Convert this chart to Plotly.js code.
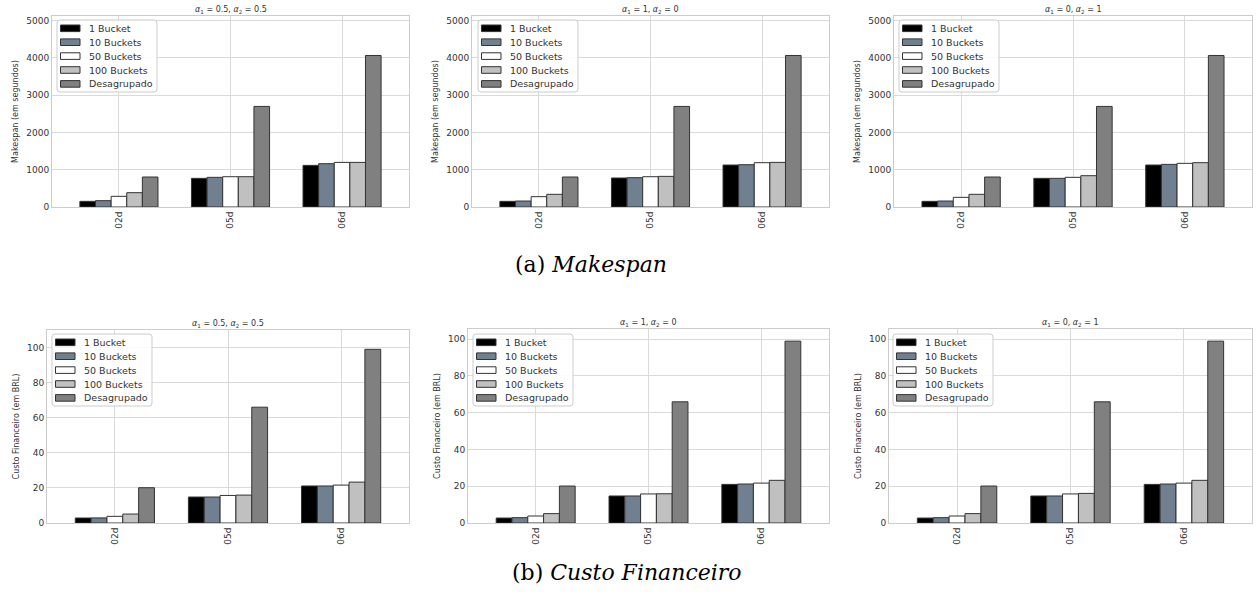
<!DOCTYPE html>
<html>
<head>
<meta charset="utf-8">
<script src="https://cdn.plot.ly/plotly-3.0.1.min.js"></script>
<style>html,body{margin:0;padding:0;background:#fff;}#chart{width:1256px;height:596px;}</style>
</head>
<body>
<div id="chart"></div>
<script>
// ---- data ----
const categories = ['02d', '05d', '06d'];
const seriesNames = ['1 Bucket', '10 Buckets', '50 Buckets', '100 Buckets', 'Desagrupado'];
const panelTitles = ['<i>α</i><sub>1</sub> = 0.5, <i>α</i><sub>2</sub> = 0.5',
                     '<i>α</i><sub>1</sub> = 1, <i>α</i><sub>2</sub> = 0',
                     '<i>α</i><sub>1</sub> = 0, <i>α</i><sub>2</sub> = 1'];
const makespanTicks = [0, 1000, 2000, 3000, 4000, 5000];
const costTicks = [0, 20, 40, 60, 80, 100];

// Makespan (em segundos): rows = series, columns = categories
const makespan_a05 = [[152, 768, 1116], [170, 795, 1161], [286, 812, 1196], [384, 812, 1196], [804, 2696, 4062]];
const makespan_a10 = [[152, 777, 1125], [160, 786, 1134], [277, 812, 1188], [340, 821, 1196], [804, 2696, 4062]];
const makespan_a01 = [[152, 768, 1125], [160, 768, 1143], [259, 795, 1170], [340, 839, 1188], [804, 2696, 4062]];
// Custo Financeiro (em BRL)
const cost_a05 = [[2.85, 14.8, 21.1], [2.9, 14.8, 21.1], [3.8, 15.7, 21.6], [5.1, 15.9, 23.3], [20.1, 66.0, 99.0]];
const cost_a10 = [[2.7, 14.7, 21.0], [2.9, 14.7, 21.2], [3.8, 15.8, 21.7], [5.1, 15.9, 23.2], [20.1, 65.9, 98.9]];
const cost_a01 = [[2.7, 14.7, 21.0], [2.9, 14.7, 21.2], [3.8, 15.8, 21.7], [5.1, 16.1, 23.2], [20.1, 65.9, 98.9]];

// ---- styling ----
const colors = ['#000000', '#708090', '#ffffff', '#c0c0c0', '#808080'];
const W = 1256, H = 596;
const panels = [
  {data: makespan_a05, x0: 52, x1: 409, y0: 16, y1: 207, ymax: 5120, ticks: makespanTicks, ytitle: 'Makespan (em segundos)', lx: 57, ly: 20, title: 0},
  {data: makespan_a10, x0: 472, x1: 829, y0: 16, y1: 207, ymax: 5120, ticks: makespanTicks, ytitle: 'Makespan (em segundos)', lx: 478, ly: 20, title: 1},
  {data: makespan_a01, x0: 894, x1: 1252, y0: 16, y1: 207, ymax: 5120, ticks: makespanTicks, ytitle: 'Makespan (em segundos)', lx: 899, ly: 20, title: 2},
  {data: cost_a05, x0: 47, x1: 409, y0: 330, y1: 523, ymax: 110, ticks: costTicks, ytitle: 'Custo Financeiro (em BRL)', lx: 52, ly: 334, title: 0},
  {data: cost_a10, x0: 468, x1: 829, y0: 329, y1: 523, ymax: 105.5, ticks: costTicks, ytitle: 'Custo Financeiro (em BRL)', lx: 473, ly: 334, title: 1},
  {data: cost_a01, x0: 889, x1: 1252, y0: 329, y1: 523, ymax: 105.5, ticks: costTicks, ytitle: 'Custo Financeiro (em BRL)', lx: 893, ly: 334, title: 2}
];

const traces = [];
const layout = {
  width: W, height: H,
  margin: {l: 0, r: 0, t: 0, b: 0},
  paper_bgcolor: '#ffffff',
  plot_bgcolor: '#ffffff',
  barmode: 'group',
  bargap: 0.3,
  bargroupgap: 0,
  font: {family: 'DejaVu Sans', color: '#333333'},
  showlegend: false,
  annotations: [],
  shapes: [],
  hovermode: false
};

const px = v => v / W;
const py = v => 1 - v / H;

function roundedBox(x0, y0, x1, y1, r) {
  // pixel coords -> paper path with rounded corners
  const X = v => px(v).toFixed(6), Y = v => py(v).toFixed(6);
  return 'M' + X(x0 + r) + ',' + Y(y0) +
    ' L' + X(x1 - r) + ',' + Y(y0) + ' Q' + X(x1) + ',' + Y(y0) + ' ' + X(x1) + ',' + Y(y0 + r) +
    ' L' + X(x1) + ',' + Y(y1 - r) + ' Q' + X(x1) + ',' + Y(y1) + ' ' + X(x1 - r) + ',' + Y(y1) +
    ' L' + X(x0 + r) + ',' + Y(y1) + ' Q' + X(x0) + ',' + Y(y1) + ' ' + X(x0) + ',' + Y(y1 - r) +
    ' L' + X(x0) + ',' + Y(y0 + r) + ' Q' + X(x0) + ',' + Y(y0) + ' ' + X(x0 + r) + ',' + Y(y0) + ' Z';
}

panels.forEach((p, i) => {
  const n = i + 1;
  const xa = n === 1 ? 'xaxis' : 'xaxis' + n;
  const ya = n === 1 ? 'yaxis' : 'yaxis' + n;
  const xr = n === 1 ? 'x' : 'x' + n;
  const yr = n === 1 ? 'y' : 'y' + n;
  seriesNames.forEach((name, s) => {
    traces.push({
      type: 'bar', name: name, x: categories, y: p.data[s],
      xaxis: xr, yaxis: yr,
      marker: {color: colors[s], line: {color: '#333333', width: 1}},
      hoverinfo: 'skip'
    });
  });
  layout[xa] = {
    domain: [px(p.x0), px(p.x1)], anchor: yr,
    type: 'category', range: [-0.6, 2.6],
    tickangle: -90, tickfont: {size: 9, color: '#333333'},
    showgrid: true, gridcolor: '#dadada', gridwidth: 1,
    showline: true, mirror: true, linecolor: '#cccccc', linewidth: 1,
    ticks: '', fixedrange: true, zeroline: false
  };
  layout[ya] = {
    domain: [py(p.y1), py(p.y0)], anchor: xr,
    range: [0, p.ymax], tickvals: p.ticks, ticktext: p.ticks.map(String),
    tickfont: {size: 9, color: '#333333'},
    showgrid: true, gridcolor: '#dadada', gridwidth: 1,
    showline: true, mirror: true, linecolor: '#cccccc', linewidth: 1,
    zeroline: false, ticks: '', fixedrange: true,
    title: {text: p.ytitle, font: {size: 8, color: '#333333'}, standoff: 6}
  };
  // subplot title
  layout.annotations.push({
    text: panelTitles[p.title], xref: 'paper', yref: 'paper',
    x: px((p.x0 + p.x1) / 2), y: py(p.y0), xanchor: 'center', yanchor: 'bottom',
    yshift: -1, showarrow: false, font: {size: 8, color: '#333333'}
  });
  // legend box (drawn in the style of the reference legend)
  layout.shapes.push({
    type: 'path', xref: 'paper', yref: 'paper', layer: 'above',
    path: roundedBox(p.lx, p.ly, p.lx + 100, p.ly + 72, 3),
    fillcolor: 'rgba(255,255,255,0.85)', line: {color: '#cccccc', width: 1}
  });
  seriesNames.forEach((name, s) => {
    const cy = p.ly + 8.3 + 13.9 * s;
    layout.shapes.push({
      type: 'rect', xref: 'paper', yref: 'paper', layer: 'above',
      x0: px(p.lx + 3.5), x1: px(p.lx + 23), y0: py(cy + 3.3), y1: py(cy - 3.3),
      fillcolor: colors[s], line: {color: '#333333', width: 1}
    });
    layout.annotations.push({
      text: name, xref: 'paper', yref: 'paper',
      x: px(p.lx + 30), y: py(cy), xanchor: 'left', yanchor: 'middle',
      showarrow: false, font: {size: 9.5, color: '#333333'}
    });
  });
});

layout.annotations.push({
  text: '(a) <i>Makespan</i>', xref: 'paper', yref: 'paper',
  x: px(591), y: py(264), xanchor: 'center', yanchor: 'middle',
  showarrow: false, font: {family: 'DejaVu Serif', size: 22, color: '#000000'}
});
layout.annotations.push({
  text: '(b) <i>Custo Financeiro</i>', xref: 'paper', yref: 'paper',
  x: px(627), y: py(572), xanchor: 'center', yanchor: 'middle',
  showarrow: false, font: {family: 'DejaVu Serif', size: 22, color: '#000000'}
});

Plotly.newPlot('chart', traces, layout, {displayModeBar: false, staticPlot: true});
</script>
</body>
</html>
